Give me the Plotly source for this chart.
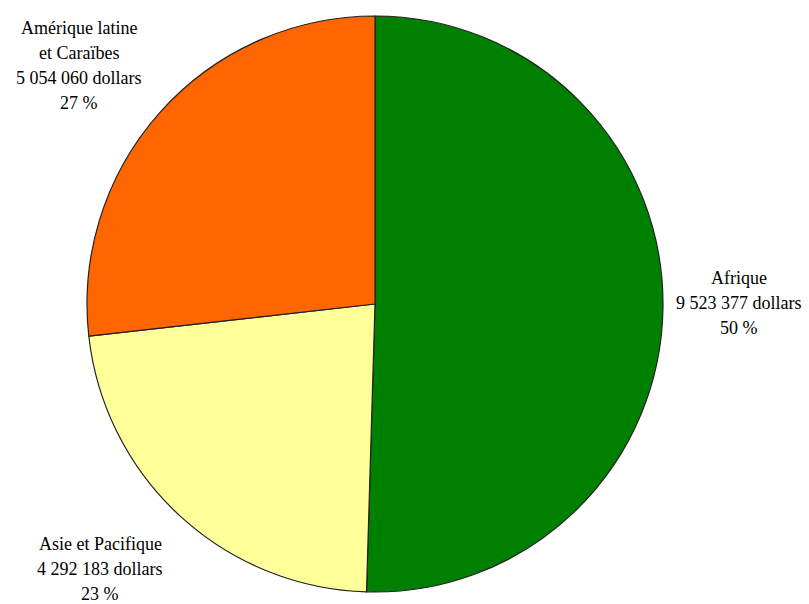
import plotly.graph_objects as go

regions = ["Afrique", "Asie et Pacifique", "Amérique latine<br>et Caraïbes"]
amounts = [9523377, 4292183, 5054060]
colors = ["#008000", "#FFFF99", "#FF6600"]

W, H = 809, 604
total = sum(amounts)

def fmt(v):
    return f"{v:,}".replace(",", " ")

fig = go.Figure(go.Pie(
    labels=regions,
    values=amounts,
    sort=False,
    direction="clockwise",
    rotation=0,
    marker=dict(colors=colors, line=dict(color="#222222", width=1.2)),
    textinfo="none",
    hoverinfo="label+value+percent",
    showlegend=False,
    domain=dict(x=[87 / W, 663 / W], y=[1 - 592 / H, 1 - 16 / H]),
))

# label anchors (pixel centres) and line spacing
label_pos = [(739, 278), (100, 544), (79, 28)]
spacing = 25
for name, val, (cx, cy) in zip(regions, amounts, label_pos):
    pct = round(val / total * 100)
    lines = name.split("<br>") + [f"{fmt(val)} dollars", f"{pct} %"]
    for i, line in enumerate(lines):
        fig.add_annotation(
            x=cx / W, y=1 - (cy + i * spacing) / H,
            xref="paper", yref="paper",
            text=line, showarrow=False,
            xanchor="center", yanchor="middle",
            font=dict(family="Times New Roman, Liberation Serif, DejaVu Serif, serif", size=18, color="#000000"),
        )

fig.update_layout(
    width=W, height=H,
    margin=dict(l=0, r=0, t=0, b=0),
    paper_bgcolor="white",
    plot_bgcolor="white",
)

fig.write_html("out.html")
